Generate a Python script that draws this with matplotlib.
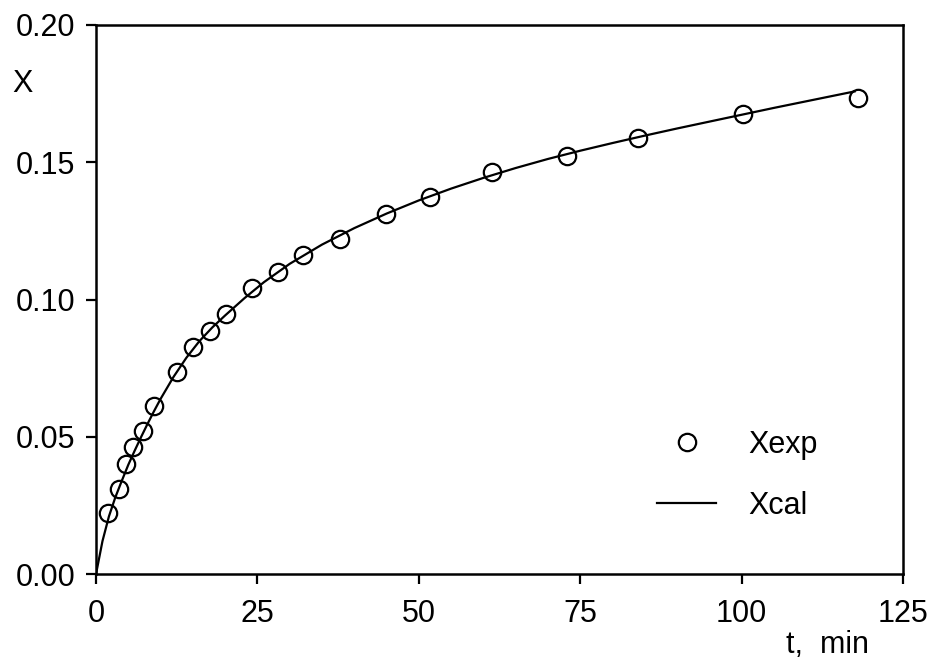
import matplotlib
matplotlib.use("Agg")
import matplotlib.pyplot as plt
from matplotlib.ticker import FormatStrFormatter

plt.rcParams['font.family'] = ['Liberation Sans', 'DejaVu Sans']

# Measured conversion X versus time
t_exp = [1.9, 3.6, 4.6, 5.8, 7.2, 9.0, 12.6, 15.0, 17.7, 20.2, 24.1, 28.2,
         32.1, 37.8, 44.9, 51.7, 61.4, 72.9, 84.0, 100.2, 118.0]
x_exp = [0.0221, 0.0309, 0.0400, 0.0461, 0.0522, 0.0612, 0.0735, 0.0828,
         0.0885, 0.0946, 0.1041, 0.1099, 0.1162, 0.1219, 0.1313, 0.1375,
         0.1463, 0.1524, 0.1587, 0.1675, 0.1735]

# Model curve
t_cal = [0, 1, 2, 3, 4, 5, 6, 7, 8, 9, 10, 12, 14, 16, 18, 20, 23, 26, 30,
         35, 40, 45, 50, 55, 60, 65, 70, 75, 80, 85, 90, 95, 100, 105, 110,
         115, 117.5]
x_cal = [0.0, 0.012, 0.021, 0.028, 0.034, 0.0398, 0.0450, 0.0500, 0.0548,
         0.0594, 0.0638, 0.0718, 0.0788, 0.0848, 0.0898, 0.0942, 0.1005,
         0.1063, 0.1130, 0.1200, 0.1260, 0.1313, 0.1361, 0.1404, 0.1443,
         0.1479, 0.1512, 0.1542, 0.1570, 0.1597, 0.1623, 0.1648, 0.1673,
         0.1698, 0.1722, 0.1746, 0.1758]

x_ticks = [0, 25, 50, 75, 100, 125]
y_ticks = [0.00, 0.05, 0.10, 0.15, 0.20]

fig = plt.figure(figsize=(9.35, 6.63), dpi=100)
ax = fig.add_axes([0.1027, 0.1342, 0.8631, 0.8281])

ax.plot(t_exp, x_exp, linestyle='none', marker='o', markersize=12.5,
        markerfacecolor='none', markeredgecolor='black', markeredgewidth=1.6,
        label='Xexp')
ax.plot(t_cal, x_cal, color='black', linewidth=1.6, label='Xcal')

ax.set_xlim(0, 125)
ax.set_ylim(0, 0.20)
ax.set_xticks(x_ticks)
ax.set_yticks(y_ticks)
ax.yaxis.set_major_formatter(FormatStrFormatter('%.2f'))

for side in ['left', 'right', 'top', 'bottom']:
    ax.spines[side].set_linewidth(1.8)

ax.tick_params(axis='both', direction='out', length=7, width=1.6,
               labelsize=22, top=False, right=False)
ax.tick_params(axis='x', pad=11)
ax.tick_params(axis='y', pad=8)

ax.set_xlabel('t,  min', fontsize=22, ha='right', va='center')
ax.xaxis.set_label_coords(0.958, -0.13)
ax.set_ylabel('X', fontsize=22, rotation=0, ha='center', va='center')
ax.yaxis.set_label_coords(-0.091, 0.893)

ax.legend(loc='upper left', bbox_to_anchor=(0.695, 0.262), frameon=False,
          fontsize=22, handlelength=1.95, handletextpad=1.05,
          labelspacing=1.0, borderpad=0, borderaxespad=0, markerscale=1.0)

fig.savefig('out.png', dpi=100)
